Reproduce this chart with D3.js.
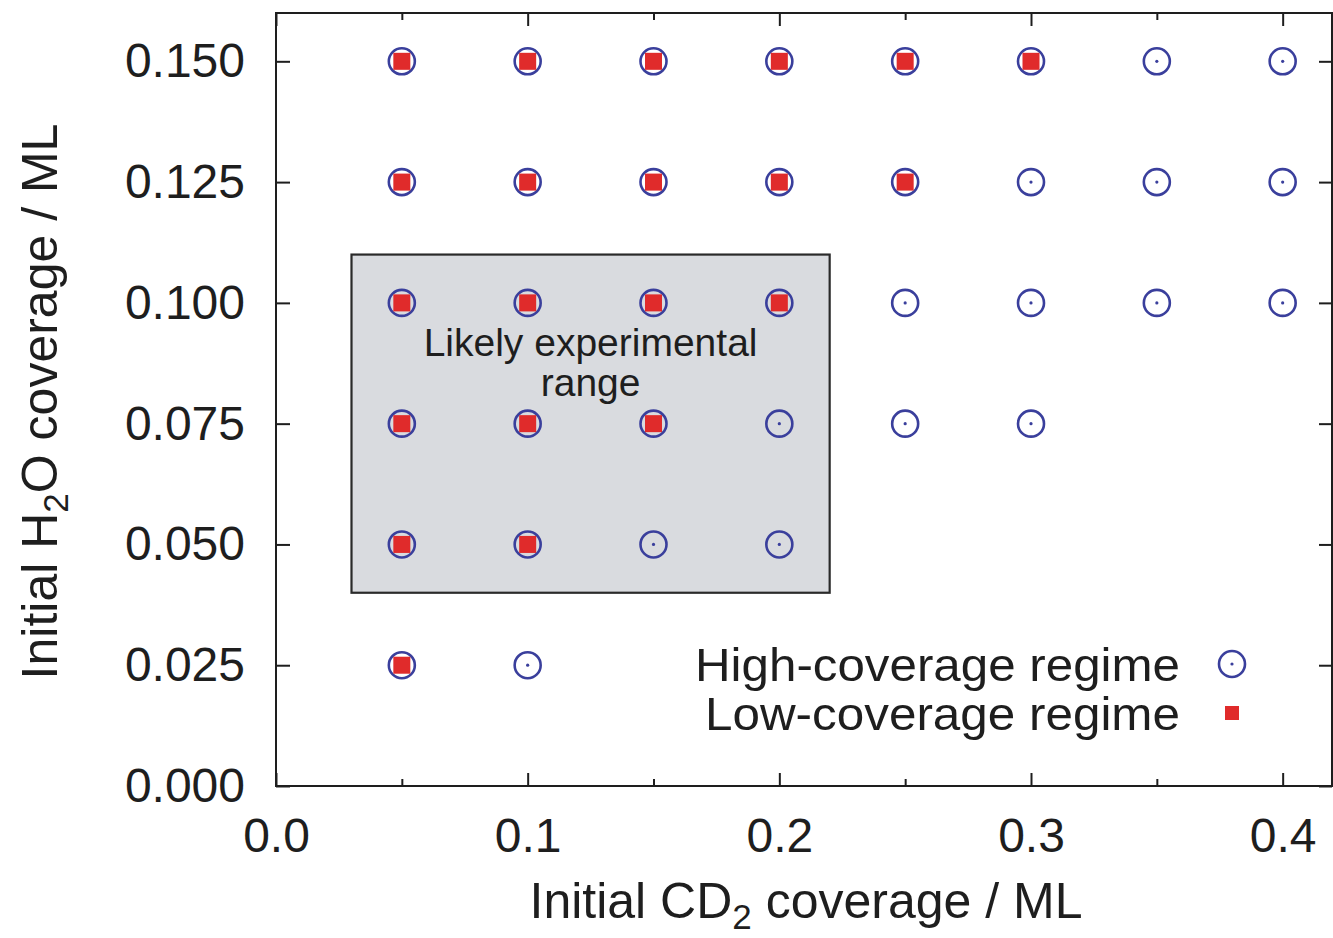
<!DOCTYPE html>
<html>
<head>
<meta charset="utf-8">
<script src="https://cdn.jsdelivr.net/npm/d3@7"></script>
<style>
  html, body { margin: 0; padding: 0; background: #fff; }
  svg { display: block; font-family: "Liberation Sans", Arial, sans-serif; }
</style>
</head>
<body>
<svg id="chart" width="1333" height="938"></svg>
<script>
// Simulation grid: initial CD2 coverage (x) vs initial H2O coverage (y), in ML
const highCoverage = [
  [0.05, 0.150], [0.10, 0.150], [0.15, 0.150], [0.20, 0.150], [0.25, 0.150], [0.30, 0.150], [0.35, 0.150], [0.40, 0.150],
  [0.05, 0.125], [0.10, 0.125], [0.15, 0.125], [0.20, 0.125], [0.25, 0.125], [0.30, 0.125], [0.35, 0.125], [0.40, 0.125],
  [0.05, 0.100], [0.10, 0.100], [0.15, 0.100], [0.20, 0.100], [0.25, 0.100], [0.30, 0.100], [0.35, 0.100], [0.40, 0.100],
  [0.05, 0.075], [0.10, 0.075], [0.15, 0.075], [0.20, 0.075], [0.25, 0.075], [0.30, 0.075],
  [0.05, 0.050], [0.10, 0.050], [0.15, 0.050], [0.20, 0.050],
  [0.05, 0.025], [0.10, 0.025]
];
const lowCoverage = [
  [0.05, 0.150], [0.10, 0.150], [0.15, 0.150], [0.20, 0.150], [0.25, 0.150], [0.30, 0.150],
  [0.05, 0.125], [0.10, 0.125], [0.15, 0.125], [0.20, 0.125], [0.25, 0.125],
  [0.05, 0.100], [0.10, 0.100], [0.15, 0.100], [0.20, 0.100],
  [0.05, 0.075], [0.10, 0.075], [0.15, 0.075],
  [0.05, 0.050], [0.10, 0.050],
  [0.05, 0.025]
];
// Shaded region: likely experimental range [x0, x1, y0, y1]
const experimentalRange = [0.03, 0.22, 0.04, 0.11];
const xMajorTicks = [0.0, 0.1, 0.2, 0.3, 0.4];
const xMinorTicks = [0.05, 0.15, 0.25, 0.35];
const yTicks = [0.000, 0.025, 0.050, 0.075, 0.100, 0.125, 0.150];
const legendLabels = ["High-coverage regime", "Low-coverage regime"];

const ink = "#1e1e1e";
const blue = "#3a3f9c";
const red = "#e02b2b";

const svg = d3.select("#chart");
const x = d3.scaleLinear().domain([0, 0.42]).range([276, 1333]);
const y = d3.scaleLinear().domain([0, 0.16]).range([786, 13]);
const [x0, x1] = x.range();
const [yb, yt] = y.range();

// Shaded box
svg.append("rect")
  .attr("x", x(experimentalRange[0]))
  .attr("y", y(experimentalRange[3]))
  .attr("width", x(experimentalRange[1]) - x(experimentalRange[0]))
  .attr("height", y(experimentalRange[2]) - y(experimentalRange[3]))
  .attr("fill", "#d9dbdf")
  .attr("stroke", "#2a2a2a")
  .attr("stroke-width", 2.2);

const boxCx = (x(experimentalRange[0]) + x(experimentalRange[1])) / 2;
svg.append("text")
  .attr("x", boxCx).attr("y", 356)
  .attr("text-anchor", "middle")
  .attr("font-size", 39)
  .attr("fill", ink)
  .text("Likely experimental");
svg.append("text")
  .attr("x", boxCx).attr("y", 396)
  .attr("text-anchor", "middle")
  .attr("font-size", 39)
  .attr("fill", ink)
  .text("range");

// Axes with inward ticks
function styleAxis(g) {
  g.selectAll(".domain").remove();
  g.selectAll("line").attr("stroke", ink).attr("stroke-width", 2);
  g.selectAll("text").attr("fill", ink).attr("font-size", 48)
    .attr("font-family", "'Liberation Sans', Arial, sans-serif");
}

svg.append("g").attr("transform", `translate(0,${yb})`)
  .call(d3.axisBottom(x).tickValues(xMajorTicks).tickSize(-13).tickPadding(32).tickFormat(d3.format(".1f")))
  .call(styleAxis);
svg.append("g").attr("transform", `translate(0,${yb})`)
  .call(d3.axisBottom(x).tickValues(xMinorTicks).tickSize(-7).tickFormat(""))
  .call(styleAxis);
svg.append("g").attr("transform", `translate(0,${yt})`)
  .call(d3.axisTop(x).tickValues(xMajorTicks).tickSize(-13).tickFormat(""))
  .call(styleAxis);
svg.append("g").attr("transform", `translate(0,${yt})`)
  .call(d3.axisTop(x).tickValues(xMinorTicks).tickSize(-7).tickFormat(""))
  .call(styleAxis);
svg.append("g").attr("transform", `translate(${x0},0)`)
  .call(d3.axisLeft(y).tickValues(yTicks).tickSize(-14).tickPadding(31).tickFormat(d3.format(".3f")))
  .call(styleAxis);
svg.append("g").attr("transform", `translate(${x1 - 1},0)`)
  .call(d3.axisRight(y).tickValues(yTicks).tickSize(-13).tickFormat(""))
  .call(styleAxis);

// Frame
svg.append("rect")
  .attr("x", x0).attr("y", yt)
  .attr("width", x1 - x0 - 1).attr("height", yb - yt)
  .attr("fill", "none").attr("stroke", ink).attr("stroke-width", 2);

// High-coverage markers: circle with center dot
const hi = svg.append("g").selectAll("g").data(highCoverage).join("g")
  .attr("transform", d => `translate(${x(d[0])},${y(d[1])})`);
hi.append("circle").attr("r", 13).attr("fill", "none").attr("stroke", blue).attr("stroke-width", 2.6);
hi.append("circle").attr("r", 1.6).attr("fill", blue);

// Low-coverage markers: filled squares
svg.append("g").selectAll("rect").data(lowCoverage).join("rect")
  .attr("x", d => x(d[0]) - 8.5).attr("y", d => y(d[1]) - 8.5)
  .attr("width", 17).attr("height", 17)
  .attr("fill", red);

// Legend
const legend = svg.append("g");
legend.append("text").attr("x", 1180).attr("y", 681).attr("text-anchor", "end")
  .attr("font-size", 47).attr("fill", ink)
  .attr("textLength", 485).attr("lengthAdjust", "spacingAndGlyphs")
  .text(legendLabels[0]);
legend.append("text").attr("x", 1180).attr("y", 730).attr("text-anchor", "end")
  .attr("font-size", 47).attr("fill", ink)
  .attr("textLength", 475).attr("lengthAdjust", "spacingAndGlyphs")
  .text(legendLabels[1]);
legend.append("circle").attr("cx", 1232).attr("cy", 664).attr("r", 13)
  .attr("fill", "none").attr("stroke", blue).attr("stroke-width", 2.6);
legend.append("circle").attr("cx", 1232).attr("cy", 664).attr("r", 1.6).attr("fill", blue);
legend.append("rect").attr("x", 1232 - 7).attr("y", 713 - 7).attr("width", 14).attr("height", 14).attr("fill", red);

// Axis titles
const xTitle = svg.append("text")
  .attr("x", 806).attr("y", 918).attr("text-anchor", "middle")
  .attr("font-size", 50).attr("fill", ink);
xTitle.append("tspan").text("Initial CD");
xTitle.append("tspan").attr("font-size", 35).attr("dy", 11).text("2");
xTitle.append("tspan").attr("dy", -11).text(" coverage / ML");

const yTitle = svg.append("text")
  .attr("transform", `translate(57,${(yt + yb) / 2 + 2}) rotate(-90)`)
  .attr("text-anchor", "middle")
  .attr("font-size", 50).attr("fill", ink);
yTitle.append("tspan").text("Initial H");
yTitle.append("tspan").attr("font-size", 35).attr("dy", 11).text("2");
yTitle.append("tspan").attr("dy", -11).text("O coverage / ML");
</script>
</body>
</html>
